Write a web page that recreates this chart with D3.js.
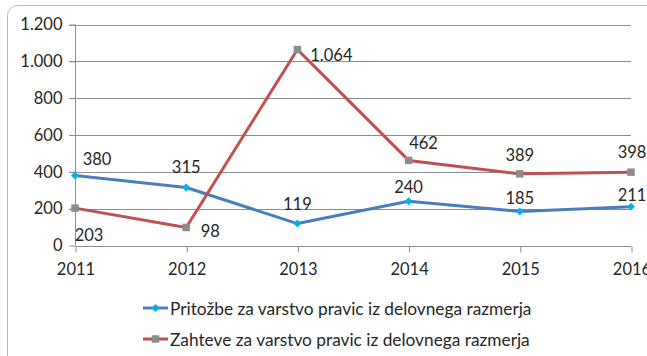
<!DOCTYPE html>
<html>
<head>
<meta charset="utf-8">
<script src="https://cdn.jsdelivr.net/npm/d3@7"></script>
<style>
  html, body { margin: 0; padding: 0; background: #fff; }
  svg { display: block; }
  text { font-family: Lato, "Open Sans", sans-serif; fill: #262626; }
</style>
</head>
<body>
<svg id="chart" width="647" height="356"></svg>
<script>
// Years on the category axis
const years = ["2011", "2012", "2013", "2014", "2015", "2016"];

// Complaints and requests per year
const pritozbe = [380, 315, 119, 240, 185, 211];
const zahteve = [203, 98, 1064, 462, 389, 398];

const seriesNames = [
  "Pritožbe za varstvo pravic iz delovnega razmerja",
  "Zahteve za varstvo pravic iz delovnega razmerja"
];

const yTicks = [0, 200, 400, 600, 800, 1000, 1200];

// Label nudges (pixels from each point) so labels avoid the lines
const pritozbeLabelShift = [[22, -17], [0, -20], [0, -20], [0, -14], [0, -13], [1, -12]];
const zahteveLabelShift = [[14, 27], [24, 4], [34, 5], [15, -17], [0, -19], [1, -20]];

const sl = d3.formatLocale({ decimal: ",", thousands: ".", grouping: [3], currency: ["", " €"] });
const fmt = sl.format(",d");

const svg = d3.select("#chart");

// Chart frame (rounded corner, extends past the visible area)
svg.append("rect")
  .attr("x", 7.5).attr("y", 5.5)
  .attr("width", 700).attr("height", 400)
  .attr("rx", 10).attr("ry", 10)
  .attr("fill", "#fff")
  .attr("stroke", "#b8b8b8").attr("stroke-width", 1);

const x = d3.scalePoint().domain(years).range([75, 631]);
const y = d3.scaleLinear().domain([0, 1200]).range([245.5, 24.5]);

// Horizontal gridlines
svg.append("g")
  .selectAll("line")
  .data(yTicks.filter(d => d > 0))
  .join("line")
  .attr("x1", 69).attr("x2", 631)
  .attr("y1", d => Math.round(y(d)) + 0.5)
  .attr("y2", d => Math.round(y(d)) + 0.5)
  .attr("stroke", "#8c8c8c").attr("stroke-width", 1);

// Y axis
const yAxis = svg.append("g")
  .attr("transform", "translate(75.5,0)")
  .call(d3.axisLeft(y).tickValues(yTicks).tickFormat(fmt).tickSize(6).tickPadding(7));
yAxis.select(".domain").attr("stroke", "#8c8c8c").attr("d", `M0,${y(0)}V${y(1200)}`);
yAxis.selectAll(".tick line").attr("stroke", "#8c8c8c");
yAxis.selectAll(".tick text")
  .attr("font-size", 16.5).attr("font-family", "Lato, sans-serif").attr("fill", "#262626");

// X axis
const xAxis = svg.append("g")
  .attr("transform", `translate(0.5,${Math.round(y(0)) + 0.5})`)
  .call(d3.axisBottom(x).tickSize(6).tickPadding(11));
xAxis.select(".domain").attr("stroke", "#8c8c8c").attr("d", `M${x(years[0])},0H${x(years[5])}`);
xAxis.selectAll(".tick line").attr("stroke", "#8c8c8c");
xAxis.selectAll(".tick text")
  .attr("font-size", 16.5).attr("font-family", "Lato, sans-serif").attr("fill", "#262626");

const line = d3.line().x((d, i) => x(years[i])).y(d => y(d));

const series = [
  { name: seriesNames[0], values: pritozbe, shift: pritozbeLabelShift, stroke: "#4a7ebb", marker: "diamond", mfill: "#00b0f0" },
  { name: seriesNames[1], values: zahteve, shift: zahteveLabelShift, stroke: "#c0504d", marker: "square", mfill: "#8c8c8c" }
];

const diamond = d3.symbol().type(d3.symbolDiamond2).size(40);
const square = d3.symbol().type(d3.symbolSquare).size(56);

series.forEach(s => {
  svg.append("path")
    .datum(s.values)
    .attr("d", line)
    .attr("fill", "none")
    .attr("stroke", s.stroke)
    .attr("stroke-width", 3)
    .attr("stroke-linejoin", "round");

  svg.append("g")
    .selectAll("path")
    .data(s.values)
    .join("path")
    .attr("transform", (d, i) => `translate(${x(years[i])},${y(d)})`)
    .attr("d", s.marker === "diamond" ? diamond() : square())
    .attr("fill", s.mfill);

  svg.append("g")
    .selectAll("text")
    .data(s.values)
    .join("text")
    .attr("x", (d, i) => x(years[i]) + s.shift[i][0])
    .attr("y", (d, i) => y(d) + s.shift[i][1])
    .attr("text-anchor", "middle")
    .attr("dominant-baseline", "central")
    .attr("font-size", 16.5)
    .text(d => fmt(d));
});

// Legend
const legend = svg.append("g");
series.forEach((s, i) => {
  const ly = 308 + i * 31;
  legend.append("line")
    .attr("x1", 143).attr("x2", 168)
    .attr("y1", ly).attr("y2", ly)
    .attr("stroke", s.stroke).attr("stroke-width", 3);
  legend.append("path")
    .attr("transform", `translate(155.5,${ly})`)
    .attr("d", s.marker === "diamond" ? diamond() : square())
    .attr("fill", s.mfill);
  legend.append("text")
    .attr("x", 170).attr("y", ly)
    .attr("dominant-baseline", "central")
    .attr("font-size", 17.3)
    .text(s.name);
});
</script>
</body>
</html>
